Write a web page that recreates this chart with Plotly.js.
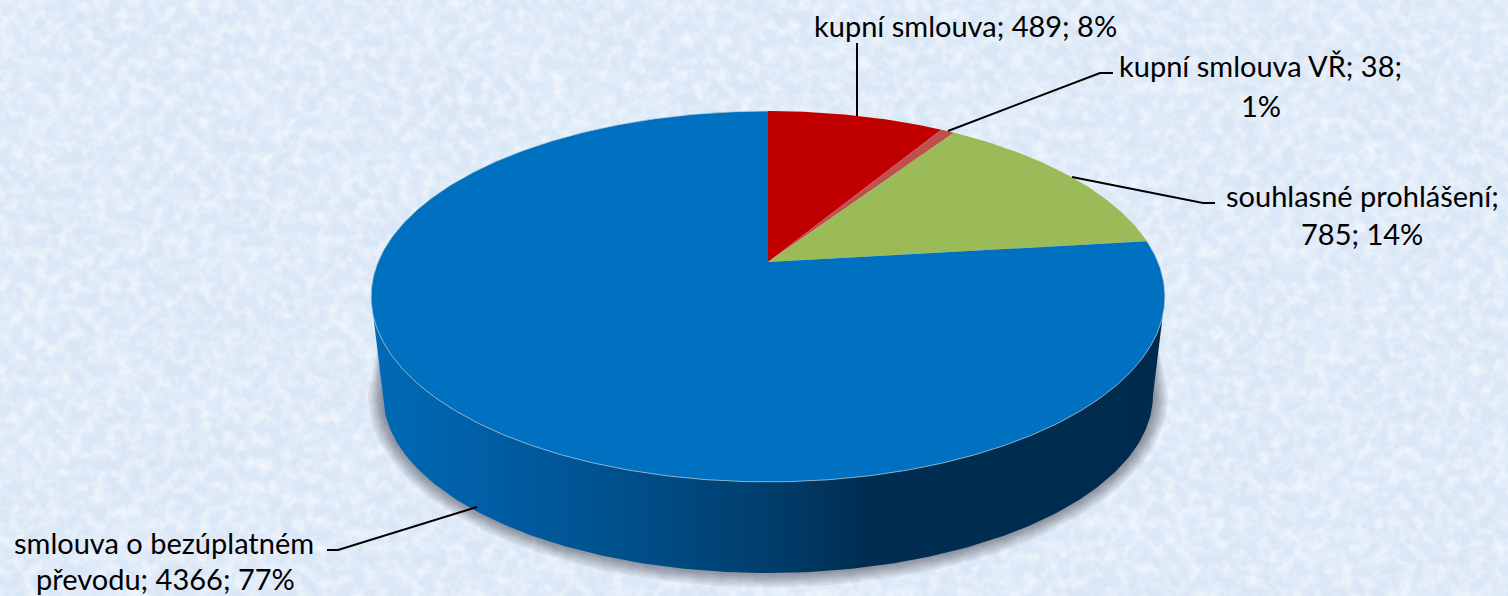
<!DOCTYPE html>
<html>
<head>
<meta charset="utf-8">
<script src="https://cdn.plot.ly/plotly-3.0.1.min.js"></script>
<style>
html,body{margin:0;padding:0;width:1508px;height:596px;overflow:hidden;background:#e2edf9;}
#tex{position:absolute;left:0;top:0;width:1508px;height:596px;}
#chart{position:absolute;left:0;top:0;width:1508px;height:596px;}
</style>
</head>
<body>
<svg id="tex" xmlns="http://www.w3.org/2000/svg" width="1508" height="596">
  <defs>
    <filter id="fine" x="0" y="0" width="100%" height="100%">
      <feTurbulence type="fractalNoise" baseFrequency="0.085" numOctaves="4" seed="7"/>
      <feColorMatrix type="matrix" values="0 0 0 0 1  0 0 0 0 1  0 0 0 0 1  1.7 0 0 0 -0.6"/>
    </filter>
    <filter id="blot" x="0" y="0" width="100%" height="100%">
      <feTurbulence type="fractalNoise" baseFrequency="0.014" numOctaves="3" seed="11"/>
      <feColorMatrix type="matrix" values="0 0 0 0 0.76  0 0 0 0 0.86  0 0 0 0 0.98  1.6 0 0 0 -0.62"/>
    </filter>
  </defs>
  <rect width="1508" height="596" fill="#d9e6f6"/>
  <rect width="1508" height="596" filter="url(#blot)" opacity="0.55"/>
  <rect width="1508" height="596" filter="url(#fine)" opacity="0.7"/>
</svg>
<div id="chart"></div>
<script>
// ---- data ----
const categories = ["kupní smlouva", "kupní smlouva VŘ", "souhlasné prohlášení", "smlouva o bezúplatném převodu"];
const values = [489, 38, 785, 4366];
const percents = ["8%", "1%", "14%", "77%"];
const sliceColors = ["#C00000", "#C0504D", "#9BBB59", "#0070C0"];

// label text split where the reference wraps it
const labelLines = [
  [categories[0] + "; " + values[0] + "; " + percents[0]],
  [categories[1] + "; " + values[1] + ";", percents[1]],
  [categories[2] + ";", values[2] + "; " + percents[2]],
  ["smlouva o bezúplatném", "převodu; " + values[3] + "; " + percents[3]]
];
const labelX = [[965], [1260, 1261], [1362, 1362], [164, 165]];
const labelY = [[25], [65, 105], [195, 233], [542, 578]];
const leaderX = [[857, 857], [1113, 1100, 948], [1215, 1203, 1072], [327, 338, 477]];
const leaderY = [[43, 116], [73, 73, 131], [203, 203, 177], [550, 550, 507]];

// ---- perspective disc geometry (axis units are reference pixels) ----
const cx = 768, cy = 262, A = 390, B = 179, K = 0.186;
function topPoint(frac) {
  const t = frac * 2 * Math.PI, u = Math.sin(t), v = -Math.cos(t), w = 1 - K * v;
  return [cx + A * u / w, cy + B * v / w];
}
const total = values.reduce((a, b) => a + b, 0);
const traces = [];

function ellipseLower(ecx, ecy, a, b, n) {
  const xs = [], ys = [];
  for (let i = 0; i <= n; i++) {
    const t = Math.PI * i / n;
    xs.push(ecx - a * Math.cos(t));
    ys.push(ecy + b * Math.sin(t));
  }
  return [xs, ys];
}

// soft shadow under the disc
[15, 12.5, 10, 8, 6, 4, 2].forEach(d => {
  const [xs, ys] = ellipseLower(cx, 395, 385 + d, 178 + d * 0.95, 160);
  traces.push({
    x: [cx - 385].concat(xs, [cx + 385]), y: [322].concat(ys, [322]),
    mode: "lines", fill: "toself", fillcolor: "rgba(60,60,70,0.085)",
    line: {width: 0}, hoverinfo: "skip", showlegend: false
  });
});

// side wall
{
  const [xs, ys] = ellipseLower(cx, 395, 385, 178, 200);
  traces.push({
    x: [cx - 397].concat(xs, [cx + 397]), y: [297].concat(ys, [297]),
    mode: "lines", fill: "toself",
    fillgradient: {type: "horizontal", colorscale: [
      [0, "#006ab6"], [0.14, "#005fa6"], [0.33, "#004f8a"], [0.5, "#003e6c"],
      [0.62, "#002e52"], [1, "#002b4e"]
    ]},
    line: {width: 0}, hoverinfo: "skip", showlegend: false
  });
}

// slices
let acc = 0;
values.forEach((val, i) => {
  const f0 = acc / total, f1 = (acc + val) / total;
  const n = Math.max(4, Math.ceil((f1 - f0) * 720));
  const xs = [cx], ys = [cy];
  for (let j = 0; j <= n; j++) {
    const p = topPoint(f0 + (f1 - f0) * j / n);
    xs.push(p[0]); ys.push(p[1]);
  }
  xs.push(cx); ys.push(cy);
  traces.push({
    x: xs, y: ys, mode: "lines", fill: "toself", fillcolor: sliceColors[i],
    line: {width: 0}, name: categories[i], hoverinfo: "skip", showlegend: false
  });
  acc += val;
});

// thin light rim around the blue slice
{
  const xs = [], ys = [], f0 = (total - values[3]) / total;
  for (let j = 0; j <= 500; j++) {
    const p = topPoint(f0 + (1 - f0) * j / 500);
    xs.push(p[0]); ys.push(p[1]);
  }
  traces.push({x: xs, y: ys, mode: "lines", line: {width: 1, color: "rgba(190,205,215,0.75)"},
    hoverinfo: "skip", showlegend: false});
}

// leader lines
leaderX.forEach((lx, i) => {
  traces.push({x: lx, y: leaderY[i], mode: "lines", line: {width: 2, color: "#000000"},
    hoverinfo: "skip", showlegend: false});
});

const annotations = [];
labelLines.forEach((lines, i) => lines.forEach((txt, j) => {
  annotations.push({
    x: labelX[i][j], y: labelY[i][j], xref: "x", yref: "y", text: txt, showarrow: false,
    xanchor: "center", yanchor: "middle", font: {family: "Lato, sans-serif", size: 29, color: "#000000"}
  });
}));

Plotly.newPlot("chart", traces, {
  width: 1508, height: 596,
  margin: {l: 0, r: 0, t: 0, b: 0},
  paper_bgcolor: "rgba(0,0,0,0)", plot_bgcolor: "rgba(0,0,0,0)",
  xaxis: {range: [0, 1508], visible: false, fixedrange: true},
  yaxis: {range: [596, 0], visible: false, fixedrange: true},
  showlegend: false,
  annotations: annotations
}, {displayModeBar: false, staticPlot: true});
</script>
</body>
</html>
